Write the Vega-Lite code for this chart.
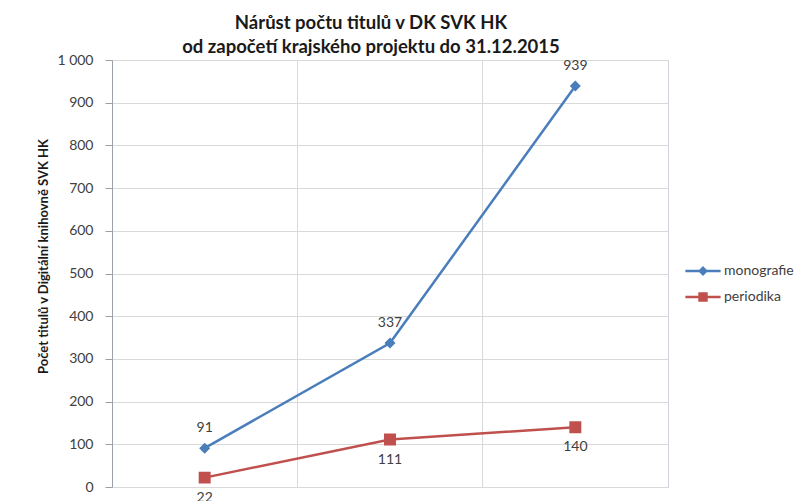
{
  "$schema": "https://vega.github.io/schema/vega-lite/v6.json",
  "width": 556,
  "height": 427,
  "autosize": "none",
  "padding": {"left": 112, "top": 60, "right": 137, "bottom": 14},
  "background": "white",
  "config": {
    "font": "Lato",
    "view": {"stroke": "#cfd3da", "strokeWidth": 1},
    "axis": {"gridColor": "#d9d9d9", "gridWidth": 1}
  },
  "title": {
    "text": ["Nárůst počtu titulů v DK SVK HK", "od započetí krajského projektu do 31.12.2015"],
    "font": "Lato",
    "fontSize": 18.5,
    "fontWeight": "bold",
    "color": "#1a1a1a",
    "lineHeight": 24,
    "anchor": "middle",
    "dx": -19,
    "offset": -3
  },
  "data": {
    "values": [
      {"obdobi": "2013", "typ": "monografie", "pocet": 91},
      {"obdobi": "2014", "typ": "monografie", "pocet": 337},
      {"obdobi": "2015", "typ": "monografie", "pocet": 939},
      {"obdobi": "2013", "typ": "periodika", "pocet": 22},
      {"obdobi": "2014", "typ": "periodika", "pocet": 111},
      {"obdobi": "2015", "typ": "periodika", "pocet": 140}
    ]
  },
  "encoding": {
    "x": {
      "field": "obdobi",
      "type": "ordinal",
      "scale": {"type": "band", "paddingInner": 0, "paddingOuter": 0},
      "axis": {"labels": false, "ticks": false, "title": null, "grid": true, "bandPosition": 0, "domain": false}
    },
    "y": {
      "field": "pocet",
      "type": "quantitative",
      "scale": {"domain": [0, 1000], "nice": false},
      "axis": {
        "values": [0, 100, 200, 300, 400, 500, 600, 700, 800, 900, 1000],
        "labelExpr": "datum.value == 1000 ? '1 000' : datum.label",
        "labelFont": "Lato",
        "labelFontSize": 14,
        "labelColor": "#404040",
        "labelPadding": 12,
        "tickSize": 7,
        "tickColor": "#9aa0aa",
        "domainColor": "#9aa0aa",
        "title": "Počet titulů v Digitální knihovně SVK HK",
        "titleFont": "Lato",
        "titleFontSize": 13,
        "titleFontWeight": "bold",
        "titleColor": "#1a1a1a",
        "titleAngle": -90,
        "titleAlign": "center",
        "titleBaseline": "middle",
        "titleX": -69,
        "titleY": 196
      }
    }
  },
  "layer": [
    {
      "mark": {"type": "line", "strokeWidth": 2.5},
      "encoding": {
        "color": {
          "field": "typ",
          "type": "nominal",
          "scale": {"domain": ["monografie", "periodika"], "range": ["#4a7ebb", "#c0504d"]}
        }
      }
    },
    {
      "mark": {"type": "point", "filled": true, "opacity": 1, "size": 189},
      "encoding": {
        "color": {
          "field": "typ",
          "type": "nominal",
          "scale": {"domain": ["monografie", "periodika"], "range": ["#4a7ebb", "#c0504d"]},
          "legend": {
            "title": null,
            "orient": "none",
            "legendX": 584,
            "legendY": 204,
            "padding": 0,
            "symbolSize": 64,
            "symbolStrokeWidth": 2.5,
            "labelOffset": 14,
            "labelFont": "Lato",
            "labelFontSize": 14,
            "labelColor": "#404040",
            "rowPadding": 8,
            "encode": {"symbols": {"update": {"stroke": {"scale": "color", "field": "value"}, "strokeWidth": {"value": 2.5}}}}
          }
        },
        "shape": {
          "field": "typ",
          "type": "nominal",
          "scale": {
            "domain": ["monografie", "periodika"],
            "range": ["M-4.4,0H4.4M0,-0.8L0.8,0L0,0.8L-0.8,0Z", "M-4.4,0H4.4M-0.87,-0.87H0.87V0.87H-0.87Z"]
          }
        }
      }
    },
    {
      "transform": [{"filter": "datum.typ == 'monografie'"}],
      "mark": {"type": "text", "dy": -20, "font": "Lato", "fontSize": 14, "color": "#404040"},
      "encoding": {"text": {"field": "pocet", "type": "quantitative"}}
    },
    {
      "transform": [{"filter": "datum.typ == 'periodika'"}],
      "mark": {"type": "text", "dy": 20, "font": "Lato", "fontSize": 14, "color": "#404040"},
      "encoding": {"text": {"field": "pocet", "type": "quantitative"}}
    }
  ]
}
